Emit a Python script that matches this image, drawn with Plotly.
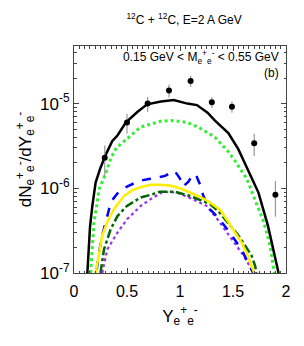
import plotly.graph_objects as go

# Data points (measured)
data_x = [0.29, 0.50, 0.695, 0.896, 1.10, 1.30, 1.49, 1.70, 1.90]
data_y = [2.3e-6, 6.0e-6, 1.0e-5, 1.43e-5, 1.85e-5, 1.04e-5, 9.2e-6, 3.4e-6, 8.4e-7]
data_err = [0.9e-6, 1.6e-6, 2.0e-6, 2.5e-6, 2.8e-6, 1.5e-6, 1.4e-6, 1.0e-6, 3.8e-7]

# Model curves
black_x = [0.126, 0.142, 0.151, 0.173, 0.204, 0.25, 0.30, 0.36, 0.41, 0.49, 0.6, 0.69, 0.82, 0.94,
           1.07, 1.16, 1.26, 1.33, 1.456, 1.55, 1.644, 1.74, 1.83, 1.88, 1.93]
black_y = [1e-7, 1.9e-7, 3.5e-7, 6.2e-7, 1.17e-6, 1.75e-6, 2.5e-6, 3.6e-6, 4.2e-6, 6e-6, 8e-6, 9.8e-6,
           1.06e-5, 1.1e-5, 1.0e-5, 9.6e-6, 7.8e-6, 6.3e-6, 4.5e-6, 2.9e-6, 1.6e-6, 8.9e-7, 3.6e-7,
           1.9e-7, 1e-7]

lgreen_x = [0.157, 0.173, 0.189, 0.214, 0.236, 0.30, 0.35, 0.40, 0.50, 0.63, 0.82, 0.94, 1.07, 1.18,
            1.29, 1.33, 1.456, 1.52, 1.63, 1.71, 1.79, 1.85, 1.88, 1.89]
lgreen_y = [1e-7, 1.9e-7, 4e-7, 6.2e-7, 9.7e-7, 1.5e-6, 2.3e-6, 3.0e-6, 3.8e-6, 5.3e-6, 6.2e-6, 6.3e-6,
            6.0e-6, 5.2e-6, 4.3e-6, 4.0e-6, 2.7e-6, 2.1e-6, 1.3e-6, 7.4e-7, 4e-7, 2.1e-7, 1.1e-7, 1e-7]

blue_x = [0.214, 0.236, 0.267, 0.31, 0.35, 0.42, 0.5, 0.57, 0.65, 0.72, 0.8, 0.86, 0.92, 0.95, 1.0,
          1.03, 1.08, 1.12, 1.15, 1.19, 1.22, 1.28, 1.36, 1.47, 1.58, 1.676, 1.69]
blue_y = [1.1e-7, 1.75e-7, 2.8e-7, 4.5e-7, 7e-7, 9e-7, 1.05e-6, 1.15e-6, 1.25e-6, 1.3e-6, 1.35e-6,
          1.4e-6, 1.55e-6, 1.6e-6, 1.3e-6, 1.05e-6, 1.2e-6, 1.45e-6, 1.45e-6, 1.1e-6, 8.1e-7, 5.7e-7,
          4.5e-7, 3e-7, 1.9e-7, 1.1e-7, 1e-7]

yellow_x = [0.204, 0.236, 0.267, 0.314, 0.377, 0.472, 0.55, 0.63, 0.72, 0.8, 0.906, 1.0, 1.094, 1.2,
            1.283, 1.33, 1.377, 1.456, 1.52, 1.58, 1.64, 1.69, 1.7]
yellow_y = [1e-7, 1.75e-7, 2.8e-7, 4e-7, 5.7e-7, 8.1e-7, 9.5e-7, 1.03e-6, 1.1e-6, 1.1e-6, 1.08e-6,
            1.0e-6, 8.9e-7, 7.8e-7, 6.8e-7, 6.2e-7, 5.6e-7, 4e-7, 3e-7, 2.3e-7, 1.6e-7, 1.1e-7, 1e-7]

dgreen_x = [0.25, 0.283, 0.346, 0.41, 0.50, 0.63, 0.74, 0.81, 0.953, 1.094, 1.2, 1.283, 1.36, 1.425,
            1.55, 1.676, 1.71, 1.72]
dgreen_y = [1e-7, 1.9e-7, 3.3e-7, 4.7e-7, 6.2e-7, 7.8e-7, 8.5e-7, 9.1e-7, 9.1e-7, 8.1e-7, 7.2e-7,
            6.5e-7, 5.4e-7, 4.3e-7, 2.8e-7, 1.6e-7, 1.2e-7, 1e-7]

purple_x = [0.267, 0.314, 0.41, 0.5, 0.63, 0.72, 0.84, 0.97, 1.125, 1.25, 1.36, 1.49, 1.6, 1.676, 1.69]
purple_y = [1e-7, 1.9e-7, 3e-7, 4.3e-7, 6.2e-7, 7.4e-7, 9.1e-7, 8.9e-7, 7.4e-7, 6.2e-7, 4.2e-7,
            2.5e-7, 1.6e-7, 1.1e-7, 1e-7]

x_tickvals = [0, 0.5, 1, 1.5, 2]
x_ticktext = ["0", "0.5", "1", "1.5", "2"]
y_tickvals = [1e-7, 1e-6, 1e-5]
y_ticktext = ["10<sup>-7</sup>", "10<sup>-6</sup>", "10<sup>-5</sup>"]

FONT = "Liberation Sans, Arial, sans-serif"

fig = go.Figure()
fig.add_trace(go.Scatter(x=lgreen_x, y=lgreen_y, mode="lines",
                         line=dict(color="#33ee33", width=3, dash="dot")))
fig.add_trace(go.Scatter(x=purple_x, y=purple_y, mode="lines",
                         line=dict(color="#9933ee", width=2.2, dash="dot")))
fig.add_trace(go.Scatter(x=dgreen_x, y=dgreen_y, mode="lines",
                         line=dict(color="#006600", width=2.5, dash="dashdot")))
fig.add_trace(go.Scatter(x=blue_x, y=blue_y, mode="lines",
                         line=dict(color="#0000ff", width=2.5, dash="dash")))
fig.add_trace(go.Scatter(x=yellow_x, y=yellow_y, mode="lines",
                         line=dict(color="#ffee00", width=2.5)))
fig.add_trace(go.Scatter(x=black_x, y=black_y, mode="lines",
                         line=dict(color="black", width=2.5)))
fig.add_trace(go.Scatter(x=data_x, y=data_y, mode="markers",
                         marker=dict(color="black", size=6),
                         error_y=dict(type="data", array=data_err, color="#999999",
                                      thickness=1.2, width=0)))

fig.update_layout(
    width=296, height=338,
    margin=dict(l=66, r=18, t=38, b=73, autoexpand=False),
    paper_bgcolor="white", plot_bgcolor="white",
    showlegend=False,
    font=dict(family=FONT, color="black"),
    title=dict(text="<sup>12</sup>C + <sup>12</sup>C, E=2 A GeV", x=0.595, xanchor="center",
               y=0.965, yanchor="middle", font=dict(size=12)),
    xaxis=dict(range=[0, 2], tickvals=x_tickvals, ticktext=x_ticktext, automargin=False,
               ticks="inside", ticklen=5, tickcolor="#444", showline=True, linecolor="#444",
               linewidth=1, mirror="allticks", showgrid=False, zeroline=False,
               tickfont=dict(size=16), ticklabelstandoff=4,
               minor=dict(dtick=0.05, ticks="inside", ticklen=2.5, tickcolor="#444", showgrid=False),
               title=dict(text="Y<sub>e</sub><sup>+</sup><sub>e</sub><sup>-</sup>", font=dict(size=17),
                          standoff=10)),
    yaxis=dict(type="log", range=[-7, -4.32], tickvals=y_tickvals, ticktext=y_ticktext, automargin=False,
               ticks="inside", ticklen=5, tickcolor="#444", showline=True, linecolor="#444",
               linewidth=1, mirror="allticks", showgrid=False, zeroline=False,
               tickfont=dict(size=17),
               minor=dict(dtick="D1", ticks="inside", ticklen=2.5, tickcolor="#444", showgrid=False),
               title=dict(text="dN<sub>e</sub><sup>+</sup><sub>e</sub><sup>-</sup>/dY<sub>e</sub><sup>+</sup><sub>e</sub><sup>-</sup>",
                          font=dict(size=17), standoff=4)),
    annotations=[
        dict(text="0.15 GeV < M<sub>e</sub><sup>+</sup><sub>e</sub><sup>-</sup> < 0.55 GeV",
             xref="paper", yref="paper", x=0.975, y=0.952, xanchor="right", yanchor="middle",
             showarrow=False, font=dict(size=12)),
        dict(text="(b)", xref="paper", yref="paper", x=0.975, y=0.881, xanchor="right",
             yanchor="middle", showarrow=False, font=dict(size=12)),
    ],
)

fig.write_html("out.html")
